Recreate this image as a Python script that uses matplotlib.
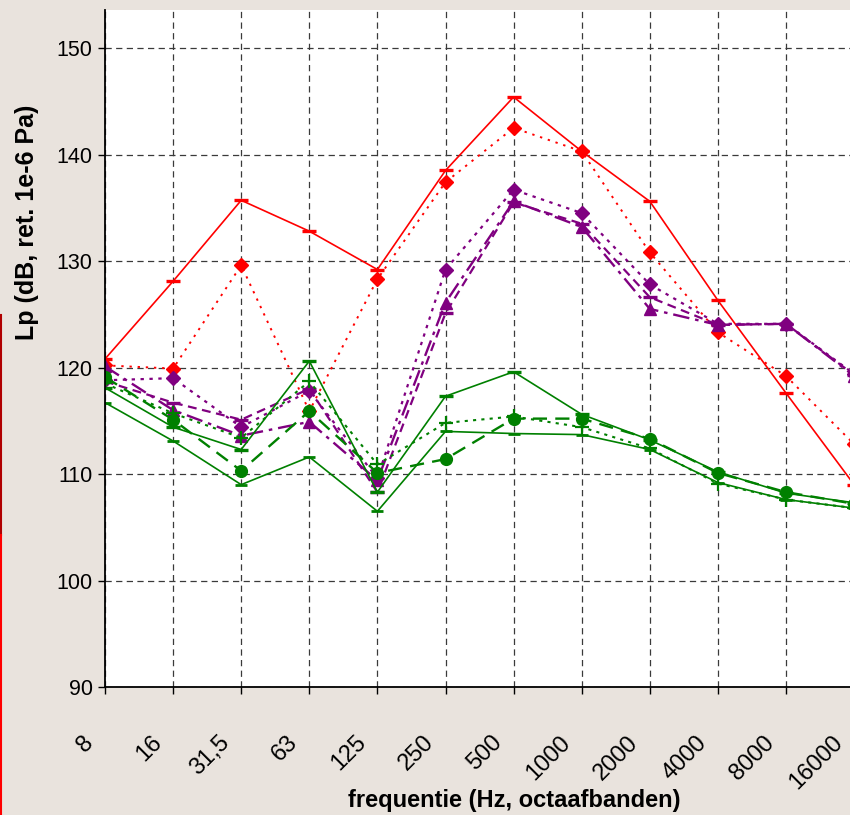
import numpy as np
import matplotlib
matplotlib.use('Agg')
import matplotlib.pyplot as plt
from matplotlib.transforms import ScaledTranslation
from matplotlib.lines import Line2D

plt.rcParams['font.family'] = ['Liberation Sans', 'DejaVu Sans']

# octave bands
bands = ['8', '16', '31,5', '63', '125', '250', '500', '1000', '2000', '4000', '8000', '16000']

# sound pressure levels per curve (dB re 1e-6 Pa)
red_solid = [120.8, 128.1, 135.7, 132.8, 129.2, 138.5, 145.4, 140.3, 135.6, 126.3, 117.6, 109.0]
red_dotted = [120.2, 119.9, 129.6, 115.9, 128.3, 137.4, 142.5, 140.3, 130.8, 123.3, 119.2, 112.8]
purple_diamond = [118.8, 119.0, 114.4, 117.8, 109.6, 129.2, 136.7, 134.5, 127.8, 124.1, 124.1, 119.4]
purple_triangle = [120.1, 116.0, 113.6, 114.9, 109.4, 126.1, 135.6, 133.2, 125.5, 124.0, 124.1, 119.2]
purple_bar = [118.7, 116.7, 115.1, 118.0, 108.3, 125.1, 135.5, 133.5, 126.6, 124.0, 124.1, 119.3]
green_top = [118.1, 114.4, 112.3, 120.6, 108.3, 117.3, 119.6, 115.6, 113.2, 110.2, 108.2, 107.3]
green_bottom = [116.7, 113.1, 109.0, 111.6, 106.5, 114.0, 113.8, 113.7, 112.3, 109.2, 107.6, 106.8]
green_circle = [119.1, 115.1, 110.3, 115.9, 110.1, 111.4, 115.2, 115.2, 113.3, 110.1, 108.3, 107.2]
green_plus = [118.5, 115.7, 113.4, 118.7, 110.9, 114.8, 115.4, 114.4, 112.4, 109.1, 107.6, 106.8]

RED = '#FF0000'
PURPLE = '#800080'
GREEN = '#008000'
BG = '#E9E3DD'

W, H = 850, 815
fig = plt.figure(figsize=(W / 100, H / 100), dpi=100, facecolor=BG)
# plot area runs past the right edge of the picture (chart is cropped)
ax = fig.add_axes([105 / W, 128 / H, 68.1 * 11.08 / W, 677 / H])
ax.set_facecolor('white')

x = np.arange(len(bands))

ax.plot(x, red_solid, color=RED, lw=1.2, marker='_', ms=9.5, mew=2.4)
ax.plot(x, red_dotted, color=RED, lw=1.4, ls=(0, (1.2, 3)), marker='D', ms=7.5)
ax.plot(x, purple_diamond, color=PURPLE, lw=1.6, ls=(0, (1.5, 2.5)), marker='D', ms=7.5)
ax.plot(x, purple_triangle, color=PURPLE, lw=1.7, ls=(0, (7, 2.5, 1.5, 2.5)), marker='^', ms=8.5)
ax.plot(x, purple_bar, color=PURPLE, lw=1.6, ls=(0, (4, 2.5)), marker='_', ms=9.5, mew=2.4)
ax.plot(x, green_plus, color=GREEN, lw=1.5, ls=(0, (1.5, 2.5)), marker='+', ms=9.5, mew=1.6)
ax.plot(x, green_circle, color=GREEN, lw=1.7, ls=(0, (6, 3.5)), marker='o', ms=8.5)
ax.plot(x, green_top, color=GREEN, lw=1.2, marker='_', ms=9.5, mew=2.4)
ax.plot(x, green_bottom, color=GREEN, lw=1.2, marker='_', ms=8, mew=2)

ax.set_xlim(0, 11.08)
ax.set_ylim(90, 90 + 677 / 10.65)
ax.set_yticks(np.arange(90, 151, 10))
ax.set_xticks(x)
ax.set_xticklabels(bands)

ax.grid(True, color='#3a3a3a', lw=0.9, ls=(0, (5, 3.5)))
ax.set_axisbelow(True)
for side in ['top', 'right']:
    ax.spines[side].set_visible(False)
for side in ['left', 'bottom']:
    ax.spines[side].set_color('black')
    ax.spines[side].set_linewidth(1.3)

ax.tick_params(axis='y', direction='out', length=5, width=1, pad=4, labelsize=15.5, colors='black')
ax.tick_params(axis='x', direction='out', length=5, width=1, pad=27, labelsize=17, colors='black')
shift = ScaledTranslation(-7 / 100, 0, fig.dpi_scale_trans)
for lab in ax.get_xticklabels():
    lab.set_rotation(45)
    lab.set_ha('right')
    lab.set_va('top')
    lab.set_transform(lab.get_transform() + shift)

fig.text(27 / W, 1 - 222 / H, 'Lp (dB, ret. 1e-6 Pa)', rotation=90, fontsize=18,
         fontweight='bold', ha='center', va='center')
fig.text(514 / W, 1 - 800 / H, 'frequentie (Hz, octaafbanden)', fontsize=17,
         fontweight='bold', ha='center', va='center')

# thin red border line at the left edge of the picture
fig.add_artist(Line2D([1 / W, 1 / W], [1 - 315 / H, 1 - 535 / H], color='#B00000', lw=1.5))
fig.add_artist(Line2D([1 / W, 1 / W], [1 - 535 / H, 0], color=RED, lw=1.5))

fig.savefig('out.png', dpi=100, facecolor=BG)
